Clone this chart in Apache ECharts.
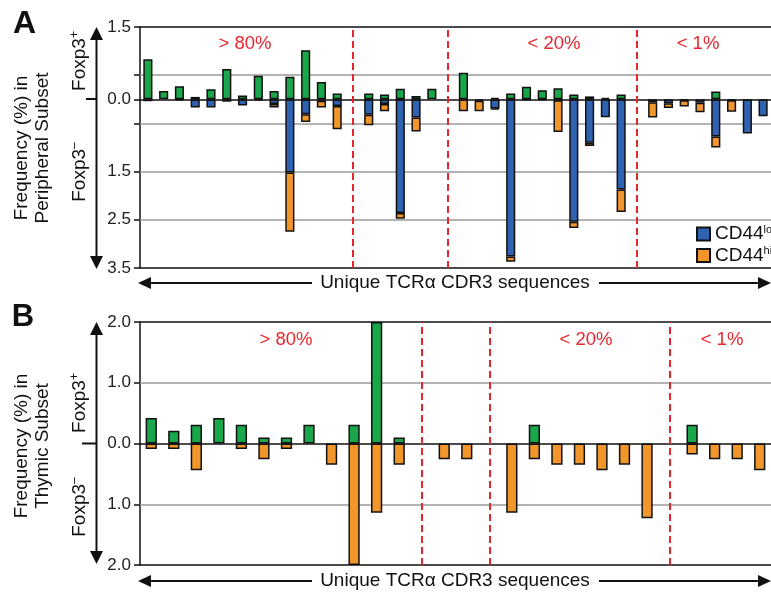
<!DOCTYPE html>
<html>
<head>
<meta charset="utf-8">
<script src="https://cdn.jsdelivr.net/npm/echarts@6/dist/echarts.min.js"></script>
<style>html,body{margin:0;padding:0;background:#fff}#c{width:771px;height:593px}</style>
</head>
<body>
<div id="c"></div>
<script>
// ---------- Panel A: peripheral subset (Foxp3+ up, Foxp3- down; null = gap slot) ----------
const aGreen  = [0.83,0.17,0.27,0.05,0.21,0.63,0.08,0.49,0.17,0.47,1.02,0.36,0.12,null,0.12,0.10,0.22,0.07,0.22,null,0.55,0,0.03,0.12,0.26,0.19,0.23,0.10,0.06,0.03,0.10,null,0,0,0,0,0.16,0,0,0];
const aBlue   = [0.04,0,0.02,0.17,0.17,0.05,0.13,0.03,0.10,1.52,0.31,0.03,0.14,null,0.32,0.10,2.36,0.38,0,null,0,0.03,0.19,3.26,0.02,0.02,0.02,2.54,0.90,0.37,1.87,null,0.06,0.08,0.02,0.07,0.77,0.02,0.71,0.35];
const aOrange = [0,0,0,0,0,0,0,0,0.07,1.23,0.16,0.14,0.48,null,0.22,0.15,0.12,0.29,0,null,0.25,0.22,0.02,0.11,0,0,0.66,0.13,0.07,0,0.47,null,0.32,0.10,0.13,0.20,0.23,0.24,0,0];
const aDividers = [13, 19, 31];
const aTickVals = [1.5, 0.5, 0, -0.5, -1.5, -2.5, -3.5];
const aLabelVals = [1.5, 0, -1.5, -2.5, -3.5];
const aGrayLines = [0.5, -0.5, -1.5, -2.5];
const aBlackLines = [1.5, 0, -3.5];
const aRegionLabels = ['> 80%', '< 20%', '< 1%'];

// ---------- Panel B: thymic subset ----------
const bGreen  = [0.42,0.21,0.31,0.42,0.31,0.10,0.10,0.31,0,0.31,2.0,0.10,null,0,0,null,0,0.31,0,0,0,0,0,null,0.31,0,0,0];
const bOrange = [0.09,0.09,0.44,0,0.09,0.26,0.09,0,0.35,2.0,1.14,0.35,null,0.26,0.26,null,1.14,0.26,0.35,0.35,0.44,0.35,1.23,null,0.18,0.26,0.26,0.44];
const bDividers = [12, 15, 23];
const bTickVals = [2, 1, 0, -1, -2];
const bGrayLines = [1, -1];
const bBlackLines = [2, 0, -2];
const bRegionLabels = ['> 80%', '< 20%', '< 1%'];

const GREEN = '#1aa64b', BLUE = '#2f62b1', ORANGE = '#f0962a', RED = '#e8262c';
const FF = '"Liberation Sans", Arial, sans-serif';

const aCats = aGreen.map((_, i) => 'S' + (i + 1));
const bCats = bGreen.map((_, i) => 'S' + (i + 1));
const up = v => (v ? v : null);
const down = v => (v ? -v : null);

const barStyle = c => ({ color: c, borderColor: '#111', borderWidth: 1.5 });

function helperSeries(xi, cats, grays, blacks, dividers) {
  const empty = cats.map(() => null);
  return [
    { type: 'line', xAxisIndex: xi, yAxisIndex: xi, data: empty, silent: true, symbol: 'none',
      markLine: { z: 1, silent: true, symbol: 'none', animation: false, label: { show: false },
        lineStyle: { color: '#9a9a9a', width: 1.5, type: 'solid' },
        data: grays.map(v => ({ yAxis: v })) } },
    { type: 'line', xAxisIndex: xi, yAxisIndex: xi, data: empty, silent: true, symbol: 'none',
      markLine: { z: 3, silent: true, symbol: 'none', animation: false, label: { show: false },
        lineStyle: { color: '#111', width: 1.5, type: 'solid' },
        data: blacks.map(v => ({ yAxis: v })) } },
    { type: 'line', xAxisIndex: xi, yAxisIndex: xi, data: empty, silent: true, symbol: 'none',
      markLine: { z: 3, silent: true, symbol: 'none', animation: false, label: { show: false },
        lineStyle: { color: RED, width: 2, type: [7, 4] },
        data: dividers.map(v => ({ xAxis: v })) } }
  ];
}

function yAxisDef(gi, min, max, interval, ticks, labels) {
  return {
    type: 'value', gridIndex: gi, min: min, max: max, interval: interval,
    axisLine: { show: true, lineStyle: { color: '#111', width: 1.5 } },
    axisTick: { show: true, length: 6, customValues: ticks, lineStyle: { color: '#111', width: 1.5 } },
    axisLabel: { customValues: labels, margin: 9, fontSize: 17, color: '#222', fontFamily: FF,
      formatter: v => (labels.some(l => Math.abs(l - v) < 1e-6) ? Math.abs(v).toFixed(1) : '') },
    splitLine: { show: false }
  };
}

const xHidden = (gi, cats) => ({ type: 'category', gridIndex: gi, data: cats,
  axisLine: { show: false }, axisTick: { show: false }, axisLabel: { show: false }, splitLine: { show: false } });

function vArrow(x, yTop, yBot) {
  return [
    { type: 'line', shape: { x1: x, y1: yTop + 10, x2: x, y2: yBot - 10 }, style: { stroke: '#111', lineWidth: 2 } },
    { type: 'polygon', shape: { points: [[x, yTop], [x - 6.5, yTop + 13], [x + 6.5, yTop + 13]] }, style: { fill: '#111' } },
    { type: 'polygon', shape: { points: [[x, yBot], [x - 6.5, yBot - 13], [x + 6.5, yBot - 13]] }, style: { fill: '#111' } }
  ];
}
function hArrow(y) {
  return [
    { type: 'line', shape: { x1: 148, y1: y, x2: 312, y2: y }, style: { stroke: '#111', lineWidth: 2 } },
    { type: 'line', shape: { x1: 599, y1: y, x2: 762, y2: y }, style: { stroke: '#111', lineWidth: 2 } },
    { type: 'polygon', shape: { points: [[138, y], [151, y - 6], [151, y + 6]] }, style: { fill: '#111' } },
    { type: 'polygon', shape: { points: [[771, y], [758, y - 6], [758, y + 6]] }, style: { fill: '#111' } },
    { type: 'text', style: { text: 'Unique TCR\u03b1 CDR3 sequences', x: 455, y: y, font: '19px ' + FF, fill: '#111',
      align: 'center', verticalAlign: 'middle', textAlign: 'center', textVerticalAlign: 'middle' } }
  ];
}
function txt(t, x, y, font, fill, extra) {
  return Object.assign({ type: 'text', style: { text: t, x: x, y: y, font: font, fill: fill,
    align: 'center', verticalAlign: 'middle', textAlign: 'center', textVerticalAlign: 'middle' } }, extra || {});
}
function foxp(sign, x, y) {
  return { type: 'text', x: x, y: y, rotation: Math.PI / 2,
    style: { text: '{a|Foxp3}{s|' + sign + '}', x: 0, y: 0, align: 'center', verticalAlign: 'middle',
      textAlign: 'center', textVerticalAlign: 'middle', fill: '#111',
      rich: { a: { fontSize: 19, fontFamily: FF, fill: '#111', lineHeight: 22 },
              s: { fontSize: 12, fontFamily: FF, fill: '#111', verticalAlign: 'top', lineHeight: 22 } } } };
}
function ytitle(t, x, y) {
  return { type: 'text', x: x, y: y, rotation: Math.PI / 2,
    style: { text: t, x: 0, y: 0, font: '19px ' + FF, fill: '#111', lineHeight: 21,
      align: 'center', verticalAlign: 'middle', textAlign: 'center', textVerticalAlign: 'middle' } };
}

const option = {
  animation: false,
  backgroundColor: '#fff',
  grid: [
    { left: 140, top: 27, width: 642, height: 241 },
    { left: 140, top: 322, width: 640, height: 243 }
  ],
  xAxis: [xHidden(0, aCats), xHidden(1, bCats)],
  yAxis: [
    yAxisDef(0, -3.5, 1.5, 0.5, aTickVals, aLabelVals),
    yAxisDef(1, -2, 2, 1, bTickVals, bTickVals)
  ],
  legend: {
    orient: 'vertical', left: 689, top: 221, padding: [3, 0, 0, 7], itemGap: 2,
    backgroundColor: '#fff', itemWidth: 13, itemHeight: 13, icon: 'rect',
    data: ['CD44lo', 'CD44hi'],
    formatter: n => '{a|CD44}{s|' + n.slice(4) + '}',
    textStyle: { rich: { a: { fontSize: 19, fontFamily: FF, color: '#111', lineHeight: 20 },
                         s: { fontSize: 11, fontFamily: FF, color: '#111', verticalAlign: 'top', lineHeight: 20 } } }
  },
  series: [
    { type: 'bar', name: 'Foxp3+', stack: 'a', xAxisIndex: 0, yAxisIndex: 0, barWidth: '58%', z: 2,
      data: aGreen.map(up), itemStyle: barStyle(GREEN) },
    { type: 'bar', name: 'CD44lo', stack: 'a', xAxisIndex: 0, yAxisIndex: 0, barWidth: '58%', z: 2,
      data: aBlue.map(down), itemStyle: barStyle(BLUE) },
    { type: 'bar', name: 'CD44hi', stack: 'a', xAxisIndex: 0, yAxisIndex: 0, barWidth: '58%', z: 2,
      data: aOrange.map(down), itemStyle: barStyle(ORANGE) },
    { type: 'bar', name: 'Foxp3+ thymic', stack: 'b', xAxisIndex: 1, yAxisIndex: 1, barWidth: '50%', z: 2,
      data: bGreen.map(up), itemStyle: barStyle(GREEN) },
    { type: 'bar', name: 'CD44hi', stack: 'b', xAxisIndex: 1, yAxisIndex: 1, barWidth: '50%', z: 2,
      data: bOrange.map(down), itemStyle: barStyle(ORANGE) }
  ].concat(helperSeries(0, aCats, aGrayLines, aBlackLines, aDividers))
   .concat(helperSeries(1, bCats, bGrayLines, bBlackLines, bDividers)),
  graphic: [].concat(
    [txt('A', 24.5, 24, 'bold 32px ' + FF, '#111'), txt('B', 23, 317, 'bold 31px ' + FF, '#111')],
    [ytitle('Frequency (%) in\nPeripheral Subset', 32, 148), ytitle('Frequency (%) in\nThymic Subset', 32, 446)],
    [foxp('+', 80, 61), foxp('\u2013', 80, 172), foxp('+', 80, 403), foxp('\u2013', 80, 507)],
    vArrow(96.5, 27, 269), vArrow(96.5, 322, 564),
    [{ type: 'line', shape: { x1: 86, y1: 99, x2: 97, y2: 99 }, style: { stroke: '#111', lineWidth: 2 } },
     { type: 'line', shape: { x1: 82, y1: 443.5, x2: 97, y2: 443.5 }, style: { stroke: '#111', lineWidth: 2 } }],
    hArrow(283), hArrow(581),
    [txt(aRegionLabels[0], 245, 44, '18.5px ' + FF, RED), txt(aRegionLabels[1], 554, 44, '18.5px ' + FF, RED),
     txt(aRegionLabels[2], 698, 44, '18.5px ' + FF, RED),
     txt(bRegionLabels[0], 286, 340, '18.5px ' + FF, RED), txt(bRegionLabels[1], 586, 340, '18.5px ' + FF, RED),
     txt(bRegionLabels[2], 722, 340, '18.5px ' + FF, RED)]
  )
};

const chart = echarts.init(document.getElementById('c'), null, { renderer: 'canvas' });
chart.setOption(option);
</script>
</body>
</html>
